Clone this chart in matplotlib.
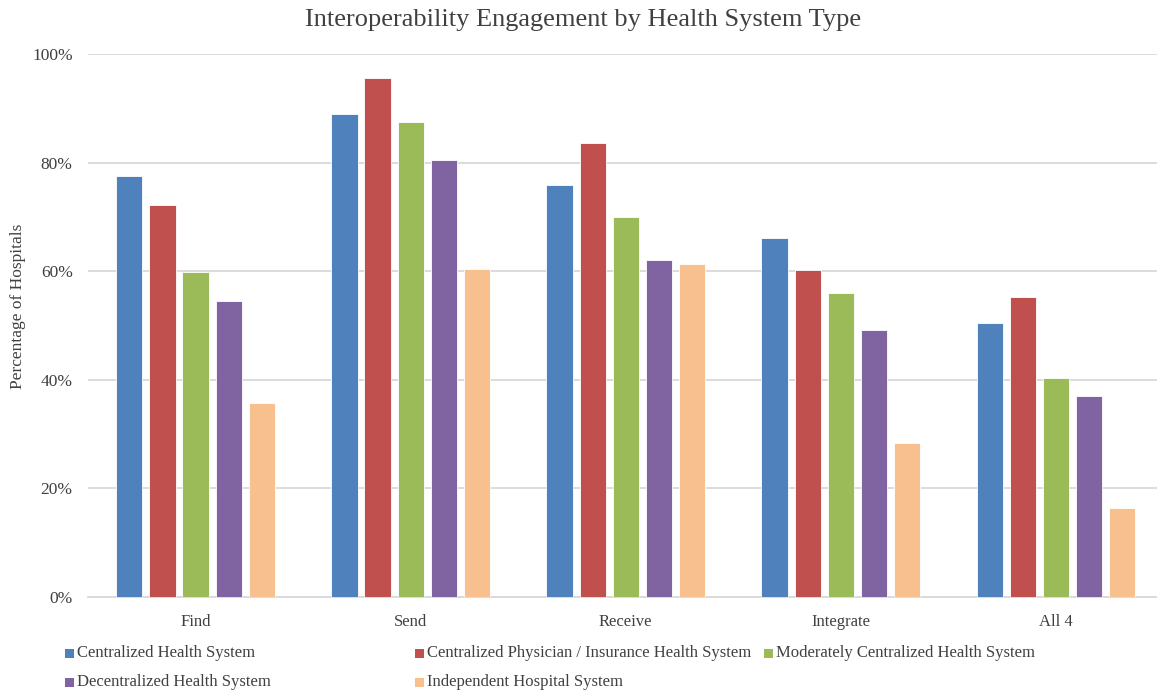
import numpy as np
import matplotlib
matplotlib.use("Agg")
import matplotlib.pyplot as plt
from matplotlib.patches import Rectangle

plt.rcParams["font.family"] = ["Liberation Serif", "DejaVu Serif"]

# Data
categories = ["Find", "Send", "Receive", "Integrate", "All 4"]
series_names = [
    "Centralized Health System",
    "Centralized Physician / Insurance Health System",
    "Moderately Centralized Health System",
    "Decentralized Health System",
    "Independent Hospital System",
]
centralized = [77.5, 88.9, 75.8, 66.1, 50.5]
centralized_phys = [72.2, 95.6, 83.6, 60.2, 55.2]
moderately = [59.9, 87.5, 69.9, 56.0, 40.3]
decentralized = [54.5, 80.4, 62.0, 49.2, 37.0]
independent = [35.7, 60.4, 61.3, 28.4, 16.4]
colors = ["#4F81BD", "#C0504D", "#9BBB59", "#8064A2", "#F9C08F"]

values = [centralized, centralized_phys, moderately, decentralized, independent]

fig = plt.figure(figsize=(11.57, 6.93), dpi=100)
W, H = 1157, 693
left, right, top, bottom = 88, 1163.5, 54, 597
ax = fig.add_axes([left / W, 1 - bottom / H, (right - left) / W, (bottom - top) / H])

x = np.arange(len(categories))
pitch = 0.154
width = 0.122
for i, (vals, name, c) in enumerate(zip(values, series_names, colors)):
    ax.bar(x + (i - 2) * pitch, np.array(vals) / 100, width=width, color=c,
           edgecolor="white", linewidth=0.6, label=name, zorder=3)

ax.set_xlim(-0.5, len(categories) - 0.5)
ax.set_ylim(0, 1)
ax.set_yticks(np.arange(0, 1.01, 0.2))
ax.set_yticklabels([f"{int(round(v * 100))}%" for v in np.arange(0, 1.01, 0.2)])
ax.set_xticks(x)
ax.set_xticklabels(categories)
ax.tick_params(axis="both", length=0, colors="#404040")
ax.tick_params(axis="y", pad=11, labelsize=12.5)
ax.tick_params(axis="x", pad=12, labelsize=12)
ax.grid(axis="y", color="#D9D9D9", linewidth=1.3, zorder=0)
ax.set_axisbelow(True)
for s in ["top", "right", "left"]:
    ax.spines[s].set_visible(False)
ax.spines["bottom"].set_color("#D9D9D9")
ax.spines["bottom"].set_linewidth(1.3)

fig.text(18 / W, 1 - 306 / H, "Percentage of Hospitals", rotation=90,
         ha="center", va="center", fontsize=12.5, color="#404040")

fig.text(583 / W, 1 - 20 / H, "Interoperability Engagement by Health System Type",
         ha="center", va="center", fontsize=19, color="#404040")

# legend drawn as three equal-width columns, like the original
col_x = [65, 415, 764]
row_y = [653, 682]
for i, (name, c) in enumerate(zip(series_names, colors)):
    cx = col_x[i % 3]
    cy = row_y[i // 3]
    fig.patches.append(Rectangle((cx / W, 1 - (cy + 4.5) / H), 9 / W, 9 / H,
                                 transform=fig.transFigure, facecolor=c,
                                 edgecolor="none", figure=fig))
    fig.text((cx + 12) / W, 1 - cy / H, name, ha="left", va="center",
             fontsize=12, color="#404040")

fig.savefig("out.png", dpi=100)
